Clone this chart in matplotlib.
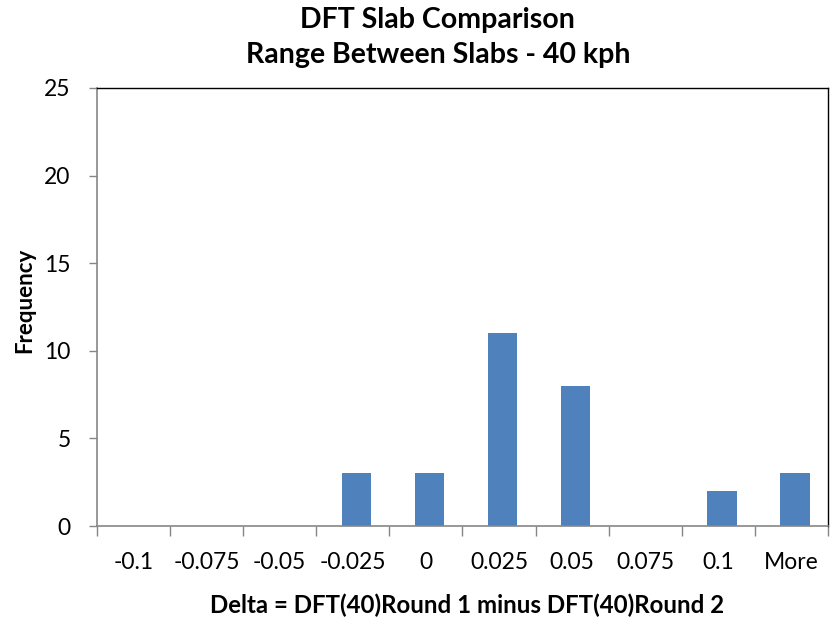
import numpy as np
import matplotlib as mpl
mpl.use('Agg')
import matplotlib.pyplot as plt
from matplotlib.ticker import FixedLocator

plt.rcParams['font.family'] = ['Lato', 'DejaVu Sans']

# histogram bins and counts
bins = ['-0.1', '-0.075', '-0.05', '-0.025', '0', '0.025', '0.05', '0.075', '0.1', 'More']
counts = [0, 0, 0, 3, 3, 11, 8, 0, 2, 3]
yticks = [0, 5, 10, 15, 20, 25]

fig = plt.figure(figsize=(8.39, 6.24), dpi=100)
ax = fig.add_axes([0.1156, 0.157, 0.8713, 0.702])

x = np.arange(len(bins))
ax.bar(x + 0.05, counts, width=0.4, color='#4F81BD', edgecolor='#4F81BD', lw=0)

ax.set_xlim(-0.5, len(bins) - 0.5)
ax.set_ylim(0, 25)
ax.set_yticks(yticks)
ax.set_xticks(x)
ax.set_xticklabels(bins, fontsize=16.5)
ax.tick_params(axis='x', which='major', length=0, pad=19)
ax.xaxis.set_minor_locator(FixedLocator(np.arange(-0.5, len(bins), 1.0)))
ax.tick_params(axis='x', which='minor', length=7, width=1, color='#868686', direction='out')
ax.tick_params(axis='y', which='major', length=6, width=1, color='#868686', labelsize=16.5, pad=13)

for s in ['left', 'bottom']:
    ax.spines[s].set_color('#868686')
    ax.spines[s].set_linewidth(1.2)
for s in ['top', 'right']:
    ax.spines[s].set_color('black')
    ax.spines[s].set_linewidth(1)

# axis titles and chart title placed in figure coords
fig.text(0.029, 0.518, 'Frequency', rotation=90, ha='center', va='center',
         fontsize=16, fontweight='bold')
fig.text(0.557, 0.0176, 'Delta = DFT(40)Round 1 minus DFT(40)Round 2', ha='center',
         va='baseline', fontsize=17.3, fontweight='bold')
fig.text(0.521, 0.955, 'DFT Slab Comparison', ha='center', va='baseline',
         fontsize=20.5, fontweight='bold')
fig.text(0.522, 0.899, 'Range Between Slabs - 40 kph', ha='center', va='baseline',
         fontsize=20.5, fontweight='bold')

fig.savefig('out.png', dpi=100)
